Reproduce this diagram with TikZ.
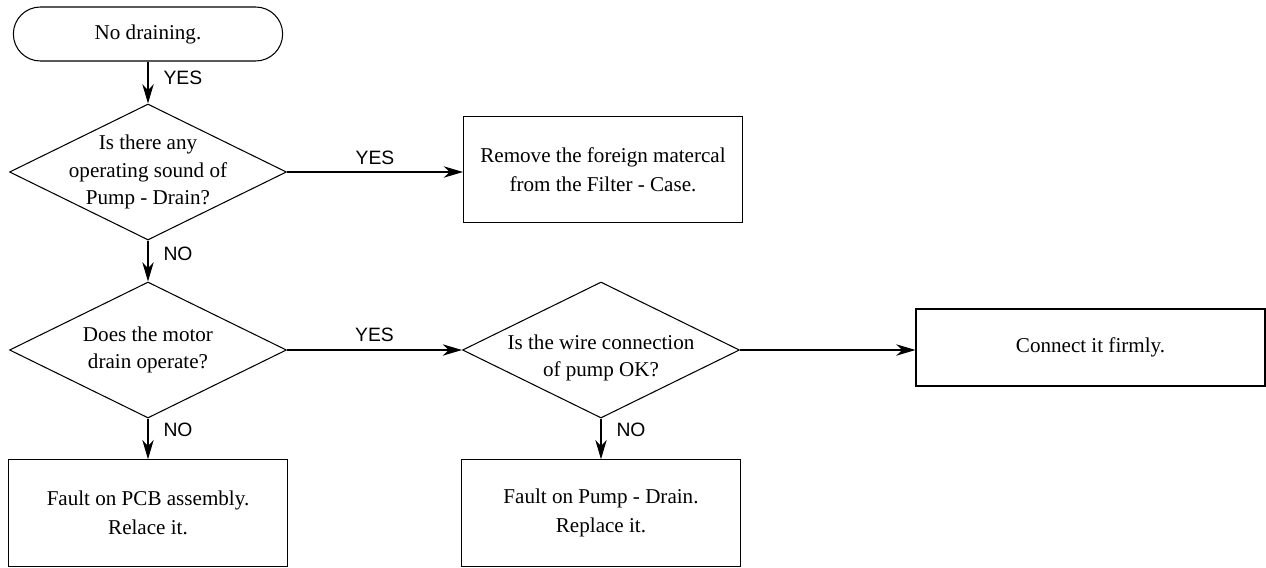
\documentclass[tikz,border=0pt]{standalone}
\usepackage{fontspec}
\setmainfont{Liberation Serif}
\newfontfamily\ynfont{Liberation Sans}
\usepackage{tikz}
\usetikzlibrary{shapes.geometric,shapes.misc,arrows.meta,positioning}
\tikzset{
  base/.style={draw=black, line width=0.6pt},
  term/.style={base, rounded rectangle, minimum width=5.62cm, minimum height=1.08cm,
    font=\fontsize{12}{16.5}\selectfont},
  decision/.style={base, diamond, minimum width=5.54cm, minimum height=2.72cm, inner sep=0pt},
  action/.style={base, rectangle, minimum width=5.58cm, minimum height=2.13cm, align=center,
    font=\fontsize{12}{16.5}\selectfont},
  txt/.style={align=center, inner sep=0pt, font=\fontsize{12}{15.5}\selectfont},
  yn/.style={inner sep=0pt, font=\ynfont\fontsize{11}{13}\selectfont},
  arr/.style={base, -{Stealth[length=11pt,width=6.5pt,inset=3.5pt]}},
}
\begin{document}
\begin{tikzpicture}
  \fill[white] (0,0) rectangle (25.32,-11.34);

  % left column
  \node[term] (start) at (2.96,-0.68) {No draining.};
  \node[decision] (q1) at (2.96,-3.44) {};
  \node[txt] (q1t) at (q1) {Is there any\\operating sound of\\Pump - Drain?};
  \node[decision] (q2) at (2.96,-7.00) {};
  \node[txt] (q2t) at (q2) {Does the motor\\drain operate?};
  \node[action] (pcb) at (2.96,-10.26) {Fault on PCB assembly.\\Relace it.};

  % middle column
  \node[action] (filter) at (12.06,-3.39) {Remove the foreign matercal\\from the Filter - Case.};
  \node[decision] (q3) at (12.02,-7.00) {};
  \node[txt] (q3t) at ([yshift=-0.16cm]q3) {Is the wire connection\\of pump OK?};
  \node[action] (pump) at (12.02,-10.26) {Fault on Pump - Drain.\\Replace it.};

  % right
  \node[action, minimum width=6.98cm, minimum height=1.54cm] (firm) at (21.81,-6.95) {Connect it firmly.};

  \draw[arr] (start.south) -- node[yn, right=0.3cm, pos=0.4] {YES} (q1.north);
  \draw[arr] (q1.east) -- node[yn, above=0.14cm] {YES} (q1.east -| filter.west);
  \draw[arr] (q1.south) -- node[yn, right=0.3cm, pos=0.33] {NO} (q2.north);
  \draw[arr] (q2.east) -- node[yn, above=0.16cm] {YES} (q3.west);
  \draw[arr] (q2.south) -- node[yn, right=0.3cm, pos=0.29] {NO} (pcb.north);
  \draw[arr] (q3.south) -- node[yn, right=0.3cm, pos=0.29] {NO} (pump.north);
  \draw[arr] (q3.east) -- (q3.east -| firm.west);
\end{tikzpicture}
\end{document}
